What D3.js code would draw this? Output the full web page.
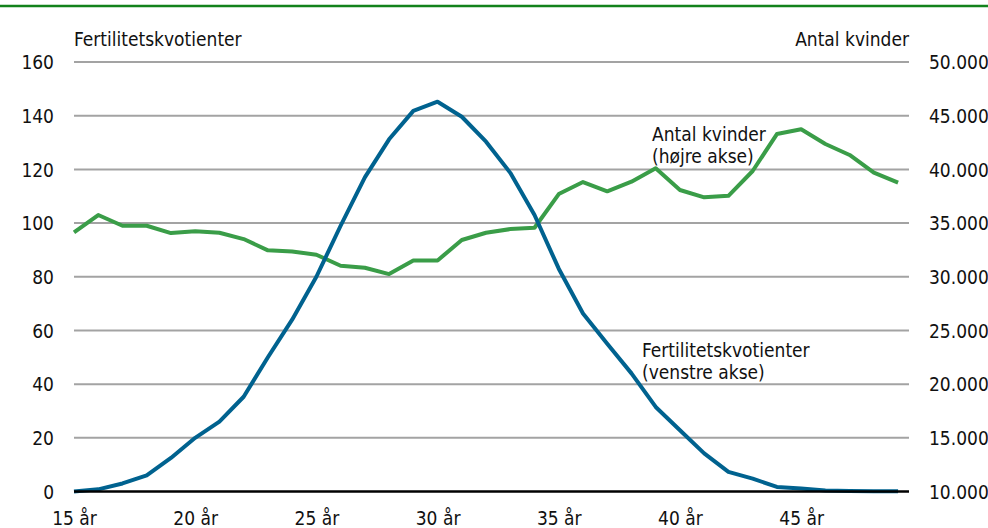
<!DOCTYPE html>
<html>
<head>
<meta charset="utf-8">
<script src="https://cdn.jsdelivr.net/npm/d3@7"></script>
<style>
  body { margin: 0; background: #fff; }
  text { font-family: "Liberation Sans Narrow", "DejaVu Sans Condensed", "Liberation Sans", sans-serif; font-size: 19px; fill: #111; }
</style>
</head>
<body>
<script>
// ages 15..49
var ages = d3.range(15, 50);

// fertilitetskvotienter (venstre akse)
var fertility = [0, 0.8, 3, 6, 12.5, 20, 26, 35.3, 50, 64, 80, 99, 117, 131.2, 141.8, 145.2,
  139.6, 130.3, 118.7, 103, 83, 66.3, 55, 44, 31.5, 22.8, 14.2, 7.3, 4.8, 1.7, 1.1, 0.4, 0.2, 0.1, 0.1];

// antal kvinder (højre akse)
var women = [34130, 35750, 34750, 34750, 34070, 34230, 34100, 33510, 32460, 32360, 32050, 31020,
  30840, 30250, 31520, 31520, 33420, 34100, 34440, 34560, 37700, 38820, 37960, 38850, 40100,
  38080, 37400, 37540, 39850, 43290, 43730, 42360, 41340, 39690, 38760];

var leftTicks = [0, 20, 40, 60, 80, 100, 120, 140, 160];
var rightTicks = [10000, 15000, 20000, 25000, 30000, 35000, 40000, 45000, 50000];
var xTicks = [15, 20, 25, 30, 35, 40, 45];

var W = 988, H = 528;
var plotLeft = 74, plotRight = 909, plotTop = 62, plotBottom = 491.5;

var svg = d3.select('body').append('svg')
  .attr('width', W)
  .attr('height', H);

// green rule on top
svg.append('line')
  .attr('x1', 0).attr('x2', W)
  .attr('y1', 6).attr('y2', 6)
  .attr('stroke', '#13821b')
  .attr('stroke-width', 2.5);

var x = d3.scaleLinear().domain([15, 49.45]).range([plotLeft, plotRight]);
var yL = d3.scaleLinear().domain([0, 160]).range([plotBottom, plotTop]);
var yR = d3.scaleLinear().domain([10000, 50000]).range([plotBottom, plotTop]);

// gridlines
svg.append('g')
  .selectAll('line')
  .data(leftTicks.slice(1))
  .enter().append('line')
  .attr('x1', plotLeft).attr('x2', plotRight)
  .attr('y1', function(d) { return yL(d); })
  .attr('y2', function(d) { return yL(d); })
  .attr('stroke', '#a3a3a3')
  .attr('stroke-width', 2);

// left axis labels
var axL = d3.axisLeft(yL).tickValues(leftTicks).tickSize(0).tickPadding(0);
svg.append('g')
  .attr('transform', 'translate(54,0)')
  .call(axL)
  .call(function(g) { g.select('.domain').remove(); })
  .selectAll('text')
  .attr('dy', '0.35em')
  .style('font-size', '19px')
  .style('font-family', null);

// right axis labels
var fmt = function(d) { return d3.format(',')(d).replace(/,/g, '.'); };
var axR = d3.axisRight(yR).tickValues(rightTicks).tickSize(0).tickPadding(0).tickFormat(fmt);
svg.append('g')
  .attr('transform', 'translate(929,0)')
  .call(axR)
  .call(function(g) { g.select('.domain').remove(); })
  .selectAll('text')
  .attr('dy', '0.35em')
  .style('font-size', '19px')
  .style('font-family', null);

// x axis labels
var axX = d3.axisBottom(x).tickValues(xTicks).tickSize(0).tickPadding(0)
  .tickFormat(function(d) { return d + ' år'; });
svg.append('g')
  .attr('transform', 'translate(0,' + plotBottom + ')')
  .call(axX)
  .call(function(g) { g.select('.domain').remove(); })
  .selectAll('text')
  .attr('y', 33)
  .attr('dy', 0)
  .style('font-size', '19px')
  .style('font-family', null);

// lines
var lineL = d3.line()
  .x(function(d, i) { return x(ages[i]); })
  .y(function(d) { return yL(d); });
var lineR = d3.line()
  .x(function(d, i) { return x(ages[i]); })
  .y(function(d) { return yR(d); });

svg.append('path')
  .datum(women)
  .attr('d', lineR)
  .attr('fill', 'none')
  .attr('stroke', '#3a9d48')
  .attr('stroke-width', 4)
  .attr('stroke-linejoin', 'round');

svg.append('path')
  .datum(fertility)
  .attr('d', lineL)
  .attr('fill', 'none')
  .attr('stroke', '#00628f')
  .attr('stroke-width', 4)
  .attr('stroke-linejoin', 'round');

// zero line
svg.append('line')
  .attr('x1', plotLeft).attr('x2', plotRight)
  .attr('y1', plotBottom).attr('y2', plotBottom)
  .attr('stroke', '#000')
  .attr('stroke-width', 2.5);

// axis titles
svg.append('text')
  .attr('x', plotLeft).attr('y', 46)
  .text('Fertilitetskvotienter');
svg.append('text')
  .attr('x', plotRight).attr('y', 46)
  .style('text-anchor', 'end')
  .text('Antal kvinder');

// annotations
svg.append('text').attr('x', 652).attr('y', 141).text('Antal kvinder');
svg.append('text').attr('x', 652).attr('y', 163).text('(højre akse)');
svg.append('text').attr('x', 642).attr('y', 357).text('Fertilitetskvotienter');
svg.append('text').attr('x', 642).attr('y', 379).text('(venstre akse)');
</script>
</body>
</html>
